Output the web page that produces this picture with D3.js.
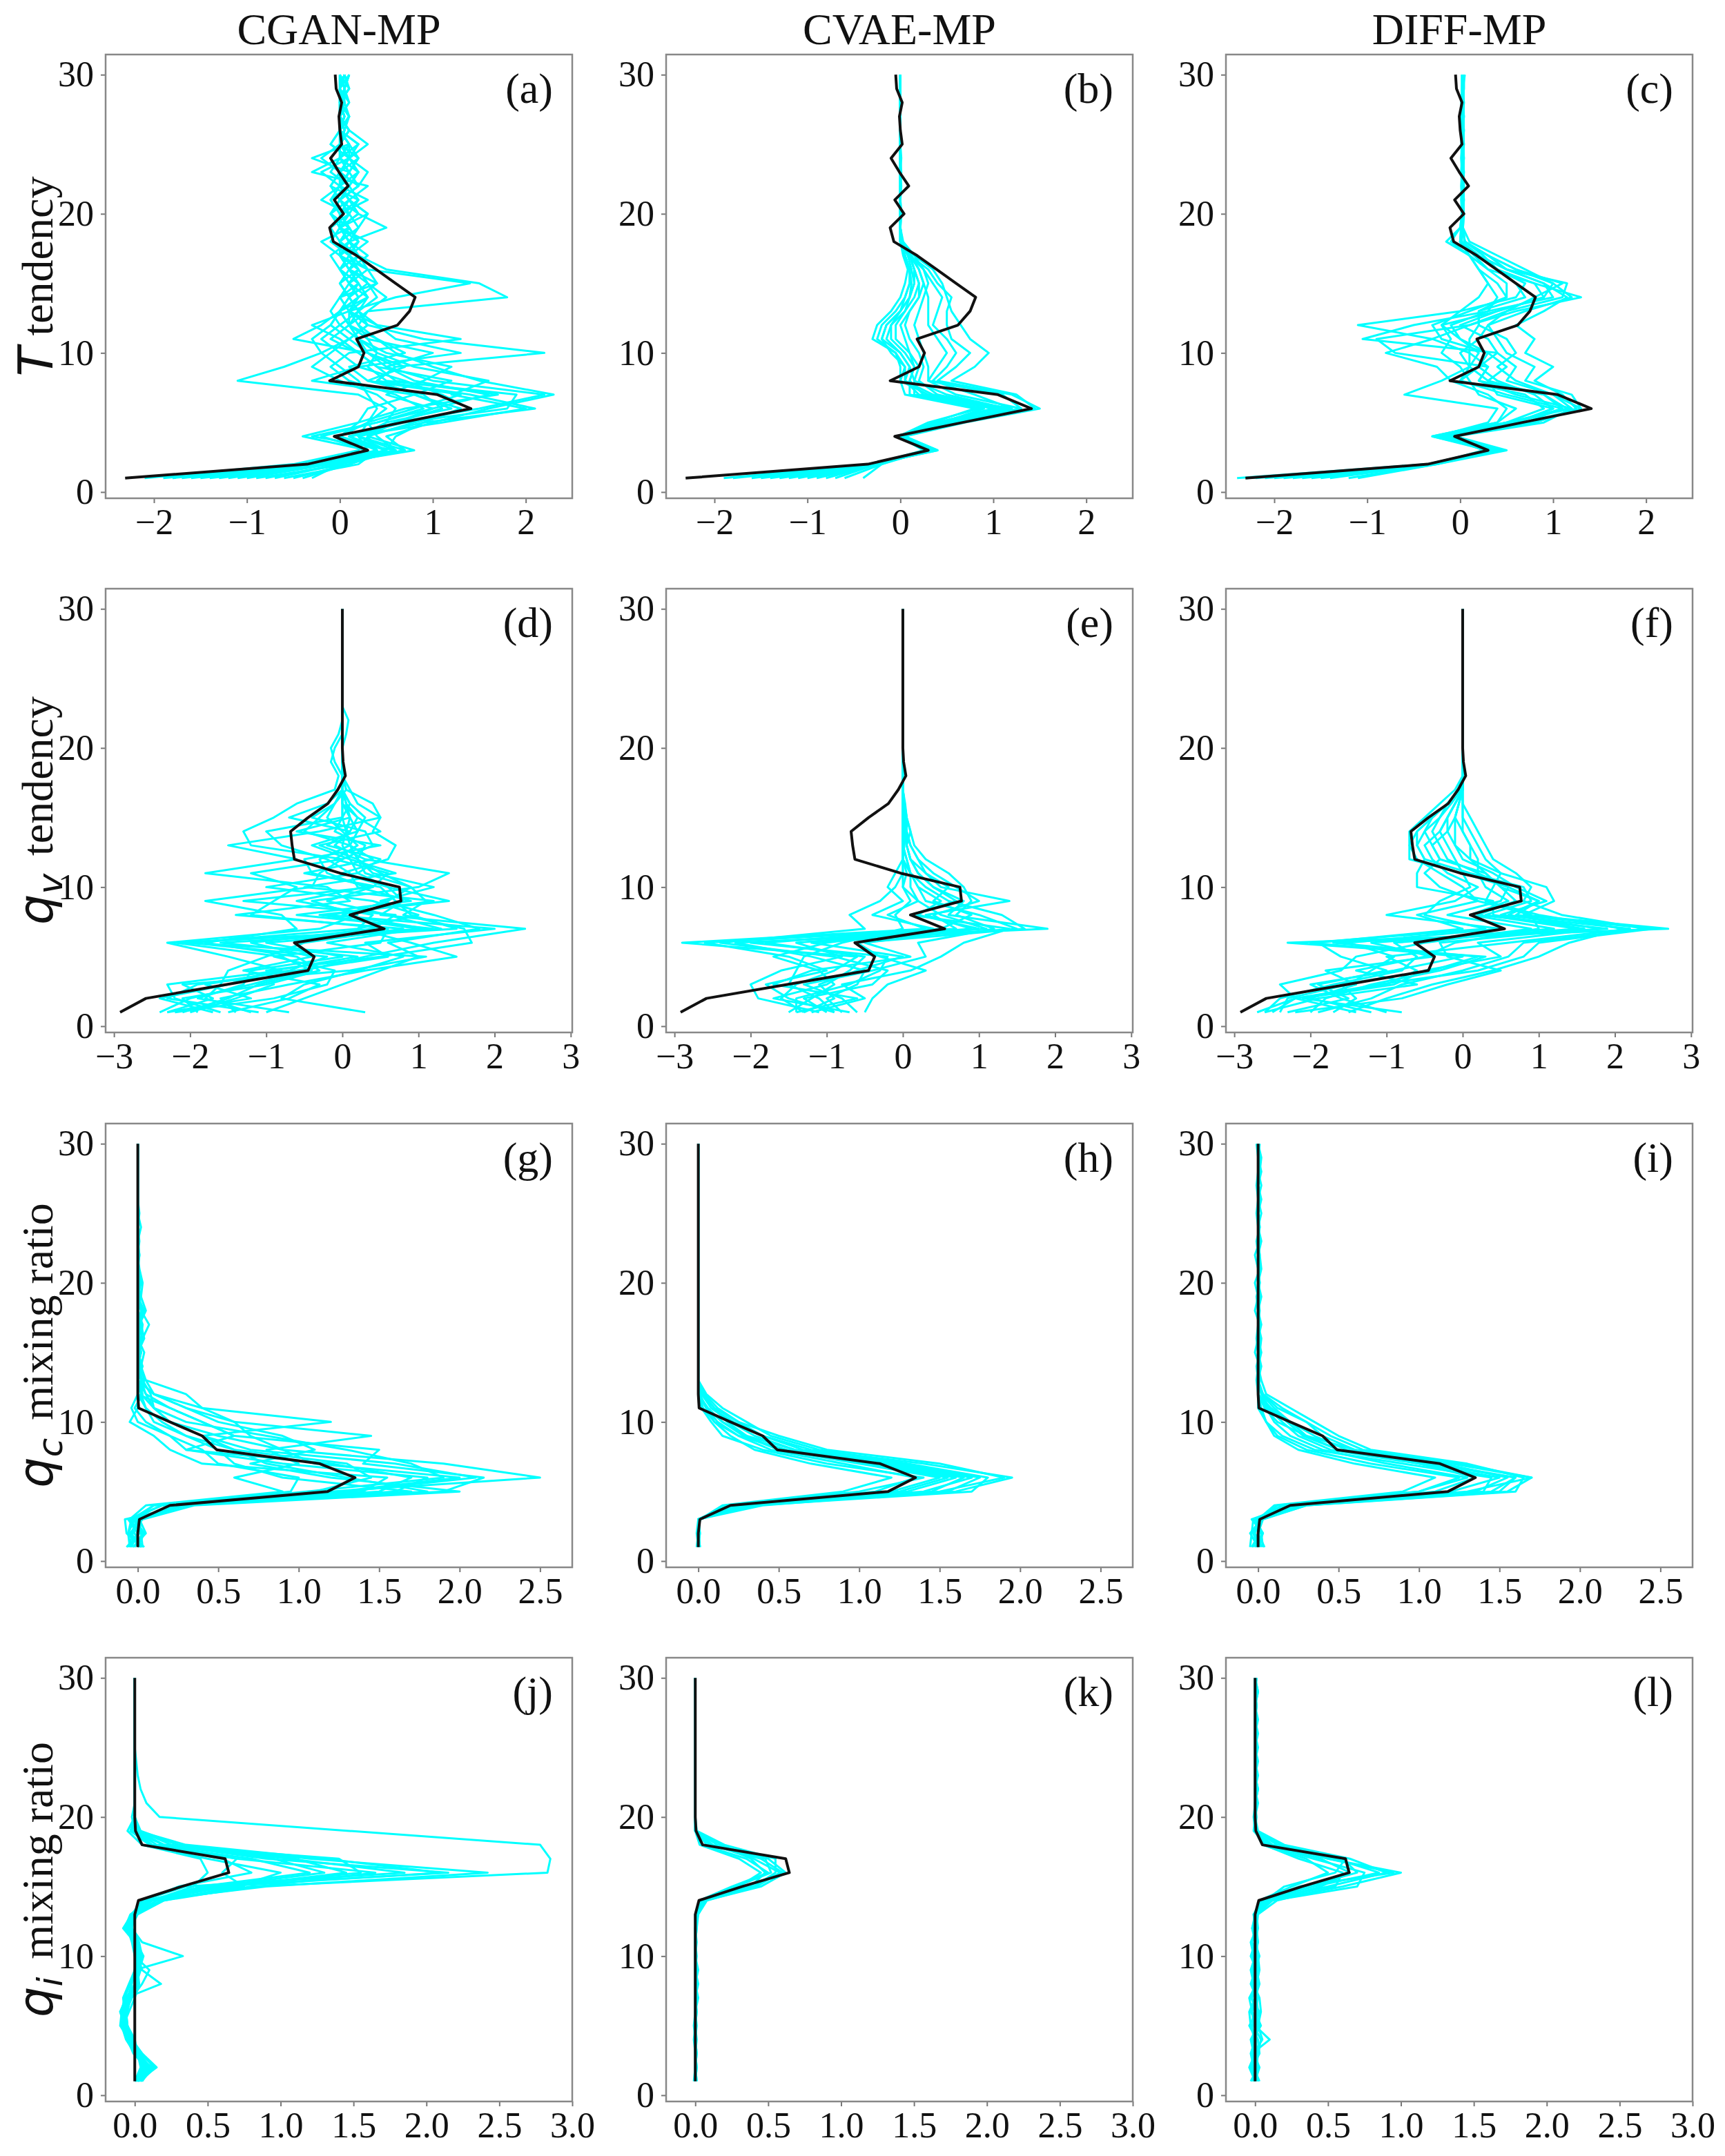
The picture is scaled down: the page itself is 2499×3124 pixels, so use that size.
<!DOCTYPE html>
<html><head><meta charset="utf-8">
<script src="https://cdn.jsdelivr.net/npm/d3@7"></script>
<style>body{margin:0;background:#fff}</style>
</head><body><svg id="chart" width="2499" height="3124"></svg>
<script>
const levels = [1,2,3,4,5,6,7,8,9,10,11,12,13,14,15,16,17,18,19,20,21,22,23,24,25,26,27,28,29,30];
const columnTitles = ["CGAN-MP","CVAE-MP","DIFF-MP"];
const panelLetters = ["(a)","(b)","(c)","(d)","(e)","(f)","(g)","(h)","(i)","(j)","(k)","(l)"];
const xTicksT = [-2,-1,0,1,2];
const xTicksQv = [-3,-2,-1,0,1,2,3];
const xTicksQc = [0,0.5,1.0,1.5,2.0,2.5];
const xTicksQi = [0,0.5,1.0,1.5,2.0,2.5,3.0];
const yTicks = [0,10,20,30];

// truth profiles (black)
const truthT = [-2.31,-0.35,0.30,-0.06,0.67,1.41,1.05,-0.11,0.20,0.26, 0.18,0.62,0.75,0.81,0.60,0.39,0.18,-0.07,-0.11,0.04, -0.06,0.09,-0.01,-0.10,0.02,0.00,-0.01,0.02,-0.04,-0.05];
const truthQv = [-2.92,-2.58,-1.52,-0.45,-0.37,-0.63,0.55,0.10,0.77,0.75, -0.03,-0.63,-0.66,-0.68,-0.45,-0.19,-0.06,0.04,0.01,0.00, 0,0,0,0,0,0,0,0,0,0];
const truthQc = [0,0,0.01,0.20,1.18,1.35,1.13,0.49,0.40,0.20, 0.005,0,0,0,0,0,0,0,0,0, 0,0,0,0,0,0,0,0,0,0];
const truthQi = [0,0,0,0,0,0,0,0,0,0, 0,0,0,0.025,0.32,0.645,0.62,0.05,0.005,0, 0,0,0,0,0,0,0,0,0,0];

// ensemble members (cyan)
const cganT = [
[-1.9,-0.3,0.4,0.1,0.6,1.5,2.2,1.0,0.5,0.3, 0.2,0.1,0.1,0.2,0.1,0.0,0.1,0.0,0.1,0.0, 0.1,0.0,0.1,0.0,0.0,0.05,0.0,0.05,0.0,0.05],
[-1.5,-0.2,0.5,0.2,0.9,2.1,1.4,0.4,0.6,2.2, 0.9,0.3,0.1,0.0,0.1,0.2,0.1,0.2,0.1,0.0, -0.1,0.1,0.2,0.1,0.0,0.1,0.0,0.0,0.1,0.05],
[-1.1,-0.1,0.6,0.4,0.3,0.5,0.2,-1.1,-0.6,-0.2, -0.3,-0.1,0.0,0.1,0.0,0.1,0.2,0.1,0.0,0.2, 0.1,0.3,-0.3,0.0,0.1,0.0,0.05,0.0,0.05,0.1],
[-0.8,0.0,0.5,0.1,0.7,1.8,1.9,0.5,0.3,0.4, 0.2,0.1,0.3,1.8,1.5,0.5,0.2,0.0,0.1,-0.1, 0.0,0.2,0.1,0.2,0.0,0.1,0.0,0.05,0.05,0.0],
[-0.4,0.1,0.6,-0.3,0.4,0.9,0.6,0.1,-0.1,0.1, 1.3,0.4,0.2,0.1,0.2,0.0,-0.1,0.1,0.0,0.1, 0.2,-0.1,0.0,-0.2,0.0,0.05,0.1,0.0,0.0,0.05],
[-1.7,-0.4,0.3,0.2,0.5,1.2,0.8,0.4,0.6,0.3, -0.5,-0.2,0.0,0.2,0.4,0.3,0.2,0.1,0.5,0.2, 0.0,0.1,0.0,0.1,0.1,0.0,0.0,0.1,0.05,0.0],
[-1.3,-0.2,0.7,0.5,1.0,1.6,2.3,1.5,1.0,0.6, 0.4,0.1,0.0,0.1,0.3,0.2,0.1,-0.1,0.0,0.1, 0.0,0.2,0.3,0.1,-0.1,0.0,0.05,0.0,0.1,0.0],
[-0.6,0.2,0.4,0.0,0.3,0.4,0.3,0.2,0.0,-0.2, 0.1,0.3,0.2,0.4,0.3,0.1,0.0,0.2,0.1,0.0, 0.3,0.0,0.1,-0.3,0.1,0.0,0.0,0.05,0.0,0.0],
[-2.1,-0.5,0.2,0.3,0.8,1.4,1.1,0.7,0.2,1.3, 0.6,0.4,0.1,0.6,1.4,0.3,0.1,0.0,-0.1,0.1, 0.0,0.1,0.2,0.0,0.1,0.0,0.1,0.0,0.05,0.1],
[-1.0,-0.1,0.8,0.3,0.6,1.0,0.5,0.9,1.2,0.5, 0.2,0.0,-0.1,0.0,0.2,0.1,0.3,0.1,0.0,-0.1, 0.1,0.0,-0.2,0.1,0.3,0.1,0.0,0.0,0.0,0.05],
[-0.3,0.0,0.3,-0.4,0.2,0.7,1.7,0.6,0.4,0.2, 0.0,-0.3,0.1,0.2,0.1,0.2,0.0,0.1,0.2,0.3, 0.1,0.0,0.1,0.2,0.0,0.0,0.1,0.05,0.0,0.1],
[-1.6,-0.3,0.5,0.1,1.1,2.0,1.2,1.6,0.8,0.4, 0.3,0.2,0.1,0.3,0.2,0.1,0.0,-0.2,0.1,0.0, -0.1,0.0,0.0,0.1,0.2,0.0,0.0,0.0,0.05,0.0],
[-0.9,0.1,0.5,0.0,0.2,0.3,0.8,-0.3,0.2,0.0, -0.2,0.0,0.2,0.3,0.1,0.0,0.1,0.2,0.0,0.1, 0.0,-0.1,0.0,0.1,0.0,0.05,0.0,0.0,0.1,0.05],
[-1.2,-0.2,0.6,0.2,0.6,1.1,0.9,0.3,0.1,0.7, 0.4,0.2,0.3,0.5,0.3,0.2,0.0,0.1,0.0,0.2, 0.1,0.0,0.2,0.0,0.0,0.0,0.1,0.0,0.0,0.05],
[-1.4,-0.1,0.4,0.3,0.5,0.6,0.4,0.0,-0.3,-0.1, 0.1,-0.1,0.0,0.2,0.1,0.3,0.0,0.0,0.2,0.1, -0.2,0.0,0.1,0.0,0.2,0.0,0.0,0.1,0.0,0.0],
[-0.5,0.1,0.5,0.6,0.9,1.3,0.8,1.2,0.4,0.2, -0.1,0.1,0.2,0.1,0.0,0.2,0.1,0.3,0.0,0.0, 0.2,0.1,-0.1,0.0,0.0,0.1,0.0,0.0,0.05,0.1],
[-1.8,-0.4,0.3,-0.2,0.4,1.0,1.6,0.8,0.5,1.0, 0.3,0.1,0.0,0.3,0.2,0.0,0.2,0.0,0.1,-0.1, 0.0,0.2,0.0,0.1,-0.1,0.0,0.05,0.0,0.0,0.05],
[-0.7,0.0,0.7,0.2,0.3,0.8,1.3,0.3,0.7,0.3, 0.1,0.3,0.1,0.0,0.4,0.1,0.0,0.1,0.0,0.3, 0.1,0.0,0.0,0.2,0.1,0.0,0.1,0.0,0.0,0.0]
];
const cvaeT = [
[-1.9,-0.3,0.35,0.0,0.6,1.45,1.25,0.55,0.8,0.95, 0.75,0.65,0.55,0.5,0.45,0.35,0.15,0.02,0.0,0.01, 0.0,0.0,0.01,0.0,0.0,0.0,0.0,0.0,0.0,0.0],
[-1.5,-0.3,0.4,0.05,0.7,1.5,1.2,0.4,0.6,0.75, 0.55,0.5,0.5,0.55,0.4,0.3,0.1,0.0,0.0,0.0, 0.0,0.01,0.0,0.0,0.0,0.0,0.0,0.0,0.0,0.0],
[-1.0,-0.25,0.3,0.0,0.5,1.3,1.1,0.3,0.4,0.5, 0.4,0.3,0.3,0.3,0.25,0.2,0.1,0.0,0.0,0.0, 0,0,0,0,0,0,0,0,0,0],
[-1.8,-0.35,0.3,-0.05,0.5,1.2,0.3,0.0,0.0,-0.05, -0.25,-0.2,-0.05,0.05,0.1,0.1,0.05,0.0,0.0,0.0, 0,0,0,0,0,0,0,0,0,0],
[-1.4,-0.3,0.25,0.0,0.4,1.0,0.2,0.05,0.1,0.0, -0.2,-0.15,0.0,0.1,0.15,0.12,0.08,0.0,0.0,0.01, 0.0,0.0,0.0,0.01,0.0,0.0,0.0,0.0,0.0,0.0],
[-0.9,-0.25,0.35,0.05,0.45,0.9,0.1,0.1,0.15,0.05, -0.1,-0.1,0.05,0.15,0.2,0.15,0.1,0.02,0.0,0.0, 0,0,0,0,0,0,0,0,0,0],
[-0.6,-0.2,0.3,0.0,0.35,0.8,0.05,0.0,0.05,-0.05, -0.3,-0.25,-0.1,0.0,0.05,0.08,0.03,0.0,0.0,0.0, 0,0,0,0,0,0,0,0,0,0],
[-0.4,-0.2,0.25,-0.02,0.3,0.85,0.15,0.15,0.2,0.1, 0.05,0.0,0.1,0.2,0.2,0.15,0.1,0.0,0.0,0.0, 0,0,0,0,0,0,0,0,0,0],
[-1.2,-0.3,0.4,0.05,0.6,1.1,0.4,0.2,0.25,0.2, 0.1,0.05,0.1,0.2,0.25,0.2,0.12,0.02,0.0,0.0, 0,0,0,0,0,0,0,0,0,0],
[-0.7,-0.25,0.3,0.0,0.4,1.0,0.25,0.1,0.15,0.1, -0.05,-0.05,0.05,0.1,0.12,0.1,0.05,0.0,0.0,0.0, 0,0,0,0,0,0,0,0,0,0],
[-1.6,-0.35,0.35,0.02,0.55,1.3,0.6,0.3,0.3,0.25, 0.2,0.15,0.2,0.25,0.3,0.25,0.15,0.03,0.0,0.0, 0,0,0,0,0,0,0,0,0,0],
[-1.1,-0.3,0.3,0.0,0.5,1.15,0.5,0.15,0.1,0.0, -0.15,-0.1,0.0,0.1,0.15,0.15,0.1,0.0,0.0,0.0, 0,0,0,0,0,0,0,0,0,0],
[-1.3,-0.3,0.3,0.0,0.5,1.2,0.8,0.35,0.5,0.6, 0.5,0.35,0.4,0.45,0.35,0.25,0.1,0.0,0.0,0.0, 0,0,0,0,0,0,0,0,0,0],
[-0.8,-0.25,0.3,0.0,0.45,1.05,0.35,0.05,0.05,-0.1, -0.2,-0.15,0.0,0.05,0.1,0.1,0.05,0.0,0.0,0.0, 0,0,0,0,0,0,0,0,0,0]
];
const diffT = [
[-2.4,-0.35,0.3,-0.25,0.5,1.2,0.6,0.2,0.3,0.1, -0.3,-1.1,0.0,0.6,0.7,0.4,0.2,0.0,0.02,0.03, 0.02,0.03,0.03,0.02,0.03,0.02,0.03,0.03,0.03,0.04],
[-2.1,-0.3,0.45,-0.2,0.7,1.3,1.0,0.5,0.6,0.4, -1.05,-0.5,0.3,1.0,0.9,0.5,0.3,0.05,0.03,0.04, 0.03,0.04,0.03,0.04,0.03,0.04,0.03,0.04,0.03,0.05],
[-1.8,-0.35,0.35,-0.3,0.4,0.5,0.3,-0.1,-0.25,-0.8, -0.3,0.1,0.6,1.3,0.8,0.3,0.1,0.0,0.01,0.02, 0.03,0.02,0.02,0.03,0.02,0.03,0.02,0.02,0.03,0.03],
[-1.5,-0.3,0.25,-0.15,0.6,1.1,0.9,0.3,0.1,0.0, 0.2,0.3,0.5,0.8,1.1,0.6,0.3,0.05,0.02,0.03, 0.04,0.03,0.04,0.03,0.04,0.03,0.04,0.03,0.04,0.04],
[-1.2,-0.25,0.4,-0.1,0.8,1.25,1.1,0.8,1.0,0.7, 0.8,0.6,0.9,1.15,0.9,0.5,0.2,0.0,0.02,0.02, 0.03,0.03,0.02,0.03,0.03,0.02,0.03,0.03,0.02,0.03],
[-2.2,-0.35,0.3,-0.25,0.3,0.4,-0.6,-0.2,0.1,0.2, 0.0,-0.1,0.3,0.4,0.3,0.2,0.1,-0.1,0.0,0.02, 0.01,0.02,0.02,0.01,0.02,0.02,0.01,0.02,0.02,0.02],
[-1.9,-0.3,0.3,-0.2,0.5,0.9,0.7,0.0,0.2,0.3, -0.2,-0.3,0.1,0.5,0.5,0.3,0.15,0.0,0.02,0.03, 0.02,0.02,0.03,0.02,0.02,0.03,0.02,0.03,0.02,0.03],
[-1.6,-0.25,0.5,-0.05,0.9,1.2,1.0,0.6,0.4,0.6, 0.5,0.2,0.2,0.7,0.6,0.4,0.25,0.05,0.03,0.04, 0.03,0.03,0.04,0.03,0.03,0.04,0.03,0.03,0.04,0.04],
[-2.3,-0.35,0.3,-0.3,0.4,0.6,0.2,0.1,0.0,-0.2, -0.1,-0.2,0.0,0.2,0.3,0.2,0.1,0.0,0.01,0.02, 0.02,0.01,0.02,0.02,0.01,0.02,0.02,0.01,0.02,0.02],
[-1.4,-0.3,0.35,-0.1,0.6,1.0,0.8,0.4,0.2,0.4, 0.3,0.0,0.4,0.9,1.0,0.7,0.4,0.1,0.03,0.03, 0.04,0.03,0.03,0.04,0.03,0.03,0.04,0.03,0.03,0.04],
[-2.0,-0.3,0.4,-0.2,0.5,1.15,0.9,0.2,0.3,-0.7, -0.9,0.1,0.5,1.1,1.15,0.5,0.2,0.02,0.02,0.03, 0.02,0.03,0.02,0.03,0.02,0.03,0.02,0.03,0.02,0.03],
[-1.1,-0.25,0.3,-0.15,0.7,1.1,0.5,0.0,0.1,0.1, 0.1,0.2,0.2,0.5,0.4,0.2,0.1,-0.15,0.0,0.02, 0.02,0.02,0.01,0.02,0.02,0.02,0.01,0.02,0.02,0.02],
[-2.3,-0.35,0.4,-0.2,0.6,1.0,0.4,0.3,0.5,0.3, 0.0,-0.2,0.4,0.9,0.8,0.4,0.2,0.0,0.02,0.03, 0.03,0.02,0.03,0.02,0.03,0.03,0.02,0.03,0.03,0.03],
[-1.7,-0.3,0.3,-0.1,0.8,1.3,1.2,0.7,0.8,0.5, 0.4,0.3,0.7,1.2,1.0,0.6,0.3,0.05,0.03,0.03, 0.03,0.04,0.03,0.03,0.04,0.03,0.03,0.04,0.03,0.04]
];
const cganQv = [
[-2.4,-2.0,-1.2,-0.5,0.3,1.2,2.4,0.5,0.8,0.6, 0.2,0.1,0.0,0.05,0.1,0.05,0.0,0.0,0.0,0.0, 0,0,0,0,0,0,0,0,0,0],
[-1.6,-2.2,-2.3,-0.8,-1.5,-2.3,-0.3,0.2,-0.4,1.0, 1.4,0.3,-0.1,0.1,0.2,0.05,0.0,0.0,0.0,0.0, 0,0,0,0,0,0,0,0,0,0],
[-2.0,-1.4,-0.9,-1.0,0.5,1.7,1.6,0.8,1.1,0.9, 0.5,0.2,0.1,0.05,0.0,0.0,0.0,0.0,0.0,0.0, 0,0,0,0,0,0,0,0,0,0],
[-1.2,-1.8,-1.6,-1.5,-1.0,-0.5,0.8,-1.4,0.1,-0.2, -1.8,-0.6,-1.5,-0.3,0.5,0.4,0.05,0.0,0.0,0.0, 0,0,0,0,0,0,0,0,0,0],
[0.3,-0.8,-0.5,0.2,0.8,-0.2,1.0,-0.3,1.4,0.6, 0.0,0.6,0.7,0.4,0.5,0.2,0.1,0.0,0.0,0.0, 0.05,0.08,0,0,0,0,0,0,0,0],
[-1.9,-2.1,-1.0,-0.3,-0.6,-1.8,-0.6,-0.8,-1.8,-0.4, -0.3,0.0,-1.2,-1.3,-0.9,-0.6,-0.1,-0.05,-0.15,-0.1, 0,0,0,0,0,0,0,0,0,0],
[-1.0,-0.5,0.0,0.5,1.0,0.6,1.8,1.2,0.5,1.2, 0.4,0.2,0.3,-0.1,0.0,0.0,0.0,0.0,0.0,0.0, 0,0,0,0,0,0,0,0,0,0],
[-2.3,-1.2,-1.8,-0.7,-0.2,-2.0,0.2,0.4,-0.6,0.3, -0.2,-0.3,0.1,-0.5,-0.3,-0.1,0.0,0.0,0.0,0.0, 0,0,0,0,0,0,0,0,0,0],
[-1.4,-1.6,-0.7,0.3,1.5,0.9,0.2,1.0,0.4,-1.0, 0.2,0.5,-0.2,0.1,-0.7,-0.2,0.0,0.0,0.0,0.0, 0,0,0,0,0,0,0,0,0,0],
[-0.7,-1.9,-1.3,-1.2,0.0,-1.0,1.2,-0.6,0.9,0.2, 0.1,-0.2,-0.8,-1.0,0.0,0.1,0.0,0.0,0.0,0.0, 0,0,0,0,0,0,0,0,0,0],
[-2.2,-0.9,-0.2,-0.1,-0.9,0.5,0.6,-1.2,-0.9,-0.6, -1.2,0.0,0.4,0.3,-0.4,-0.1,0.05,0.0,-0.1,-0.15, -0.05,0,0,0,0,0,0,0,0,0],
[-1.7,-2.4,-1.5,-0.9,0.2,-1.6,1.5,0.9,0.7,0.5, -0.5,0.4,0.1,0.2,0.1,0.05,0.0,0.0,0.0,0.0, 0,0,0,0,0,0,0,0,0,0],
[-2.1,-1.5,-1.1,-0.4,-0.8,-2.2,1.3,0.6,-0.2,0.4, 0.6,-0.1,0.2,0.0,-0.2,-0.1,0.0,0,0,0, 0,0,0,0,0,0,0,0,0,0],
[-1.1,-2.3,-1.9,-0.6,0.6,0.3,2.0,-0.2,1.2,-0.5, 0.7,0.1,-0.4,0.2,0.3,0.1,0.0,0,0,0, 0,0,0,0,0,0,0,0,0,0],
[-1.5,-0.7,-0.3,-1.3,-0.4,-1.2,0.4,0.7,-1.3,0.4, -0.4,-0.5,0.5,-0.6,0.1,0.0,0.0,0,0,0, 0,0,0,0,0,0,0,0,0,0],
[-2.3,-1.7,-2.1,0.1,1.1,-2.1,1.1,0.0,0.6,0.9, 0.3,0.2,-0.3,0.5,0.2,0.0,0.0,0,0,0, 0,0,0,0,0,0,0,0,0,0]
];
const cvaeQv = [
[-1.3,-1.6,-1.4,-0.9,-0.6,-2.9,0.3,-0.2,0.2,0.0, 0.0,0.0,0.02,0.03,0.02,0.01,0,0,0,0, 0,0,0,0,0,0,0,0,0,0],
[-0.8,-1.0,-0.6,-0.5,-1.2,-2.2,1.9,0.6,0.8,0.4, 0.2,0.1,0.05,0.05,0.03,0.02,0,0,0,0, 0,0,0,0,0,0,0,0,0,0],
[-1.1,-1.9,-2.0,-1.6,-0.8,-1.4,0.9,0.3,1.4,0.5, 0.3,0.1,0.05,0.1,0.05,0.03,0,0,0,0, 0,0,0,0,0,0,0,0,0,0],
[-0.5,-0.4,-0.2,0.3,-0.3,-0.6,1.6,1.3,0.6,0.3, 0.1,0.05,0.0,0.02,0,0,0,0,0,0, 0,0,0,0,0,0,0,0,0,0],
[-1.5,-1.2,-0.9,-1.1,-1.7,-1.0,0.4,-0.4,0.0,-0.2, -0.1,0,0,0,0,0,0,0,0,0, 0,0,0,0,0,0,0,0,0,0],
[-0.6,-0.8,-1.3,-0.4,0.3,0.2,1.2,0.7,0.9,0.8, 0.6,0.3,0.15,0.1,0.05,0.02,0,0,0,0, 0,0,0,0,0,0,0,0,0,0],
[-1.0,-1.3,-0.4,-0.2,-0.9,-2.4,-0.5,-0.7,-0.3,-0.1, 0,0,0,0,0,0,0,0,0,0, 0,0,0,0,0,0,0,0,0,0],
[-1.4,-0.6,-1.7,-1.2,0.1,-0.5,1.0,0.2,0.5,0.2, 0.1,0,0,0,0,0,0,0,0,0, 0,0,0,0,0,0,0,0,0,0],
[-0.7,-1.7,-1.0,-0.7,-0.5,-1.8,0.5,0.9,0.4,0.6, 0.3,0.2,0.1,0.05,0.05,0.02,0,0,0,0, 0,0,0,0,0,0,0,0,0,0],
[-1.2,-0.5,-0.8,0.1,0.5,0.8,1.4,0.1,0.7,0.4, 0.2,0.1,0.05,0.02,0,0,0,0,0,0, 0,0,0,0,0,0,0,0,0,0],
[-0.9,-1.1,-1.5,-1.4,-1.3,-0.8,0.0,-0.1,0.1,0.0, 0.05,0,0,0,0,0,0,0,0,0, 0,0,0,0,0,0,0,0,0,0],
[-1.4,-1.4,-0.7,-0.3,-0.2,-2.0,1.1,0.5,0.2,0.1, 0.1,0.05,0,0,0,0,0,0,0,0, 0,0,0,0,0,0,0,0,0,0],
[-0.9,-1.5,-1.8,-1.0,-1.5,-2.6,0.7,0.4,1.0,0.7, 0.4,0.2,0.1,0.05,0.02,0,0,0,0,0, 0,0,0,0,0,0,0,0,0,0],
[-1.3,-0.9,-1.1,-0.6,0.0,-1.2,1.5,1.0,0.3,0.2, 0.1,0.0,0,0,0,0,0,0,0,0, 0,0,0,0,0,0,0,0,0,0]
];
const diffQv = [
[-2.6,-2.4,-1.7,-0.8,-0.6,-0.9,1.5,0.3,0.9,0.8, 0.1,-0.5,-0.6,-0.6,-0.4,-0.2,-0.05,0,0,0, 0,0,0,0,0,0,0,0,0,0],
[-2.0,-1.8,-1.2,-0.3,0.3,-2.3,2.7,0.8,1.2,1.1, 0.5,0.1,-0.1,-0.2,-0.1,-0.05,0,0,0,0, 0,0,0,0,0,0,0,0,0,0],
[-2.7,-2.2,-2.4,-1.6,-1.4,-0.5,0.9,-0.2,0.5,0.6, 0.0,-0.7,-0.7,-0.7,-0.5,-0.3,-0.1,0,0,0, 0,0,0,0,0,0,0,0,0,0],
[-1.5,-1.0,-0.4,0.4,1.0,1.4,2.1,1.0,0.3,0.4, 0.5,0.3,0.2,0.1,0,0,0,0,0,0, 0,0,0,0,0,0,0,0,0,0],
[-2.3,-1.5,-1.9,-1.0,-1.6,-1.9,0.0,-0.6,0.2,-0.3, -0.5,-0.3,-0.4,-0.5,-0.3,-0.2,-0.05,0,0,0, 0,0,0,0,0,0,0,0,0,0],
[-0.8,-2.1,-0.9,-0.5,0.5,0.2,1.8,0.6,1.0,0.5, 0.3,0.1,0.1,0.0,-0.1,-0.05,0,0,0,0, 0,0,0,0,0,0,0,0,0,0],
[-2.4,-2.3,-1.5,-1.2,-0.9,-1.5,0.5,-1.0,-0.1,0.2, -0.2,-0.4,-0.5,-0.3,-0.2,-0.1,0,0,0,0, 0,0,0,0,0,0,0,0,0,0],
[-1.9,-1.2,-0.8,0.0,0.6,0.8,2.4,1.3,0.8,0.9, 0.7,0.4,0.3,0.2,0.1,0,0,0,0,0, 0,0,0,0,0,0,0,0,0,0],
[-1.2,-2.0,-1.4,-1.8,-0.4,-1.2,1.2,0.1,0.6,0.3, 0.2,-0.2,-0.3,-0.4,-0.3,-0.15,-0.02,0,0,0, 0,0,0,0,0,0,0,0,0,0],
[-2.2,-0.8,-0.2,0.5,-0.2,-0.3,1.6,0.4,0.4,-0.6, -0.6,-0.5,-0.6,-0.5,-0.4,-0.2,-0.05,0,0,0, 0,0,0,0,0,0,0,0,0,0],
[-1.0,-1.6,-2.0,-0.9,0.0,-2.0,0.3,-0.5,-0.3,0.1, 0.0,-0.1,-0.2,-0.3,-0.2,-0.1,0,0,0,0, 0,0,0,0,0,0,0,0,0,0],
[-2.5,-2.2,-1.0,-0.6,-1.0,0.6,2.2,0.5,1.1,0.7, 0.4,0.0,-0.1,-0.1,-0.1,-0.05,0,0,0,0, 0,0,0,0,0,0,0,0,0,0],
[-1.7,-1.4,-1.6,-0.4,0.2,-1.7,1.9,0.2,0.7,0.5, 0.3,-0.3,-0.4,-0.2,-0.2,-0.1,0,0,0,0, 0,0,0,0,0,0,0,0,0,0],
[-2.6,-1.9,-0.6,-1.4,-0.5,-0.1,1.0,0.9,0.2,0.0, -0.3,-0.6,-0.7,-0.6,-0.4,-0.2,-0.05,0,0,0, 0,0,0,0,0,0,0,0,0,0],
[-1.4,-2.2,-1.1,0.2,0.8,1.0,2.5,0.7,1.0,0.6, 0.2,0.2,0.1,0.0,0.0,0.0,0,0,0,0, 0,0,0,0,0,0,0,0,0,0]
];
const cganQc = [
[-0.05,-0.06,-0.04,0.1,1.2,2.5,1.9,0.9,0.5,0.2, 0.1,0.05,0.0,0.01,0.0,0.02,0.03,0.0,0.01,0.0, 0.0,0.01,0,0,0,0,0,0,0,0],
[0.02,-0.07,-0.08,0.3,1.9,2.15,1.4,1.5,0.6,0.4, 0.2,0.05,0.02,0.0,0.01,0.03,0.07,0.02,0.0,0.01, 0.0,0.0,0.01,0,0,0,0,0,0,0],
[0.03,0.02,-0.05,0.05,0.9,0.6,1.0,0.8,1.45,0.6, 0.4,0.1,0.0,0.02,0.04,0.0,0.01,0.05,0.02,0.03, 0.01,0.0,0.0,0.02,0,0,0,0,0,0],
[-0.06,-0.03,0.0,0.2,1.3,2.1,1.6,0.7,0.4,1.2, 0.4,0.3,0.05,0.0,0.02,0.01,0.0,0.0,0.02,0.0, 0.0,0.01,0.0,0.0,0.01,0,0,0,0,0],
[0.0,0.04,-0.02,0.25,1.1,1.45,1.3,0.6,0.3,0.1, 0.05,0.02,0.04,0.02,0.0,0.04,0.02,0.0,0.0,0.02, 0,0,0,0,0,0,0,0,0,0],
[-0.04,0.0,-0.06,0.15,1.6,1.8,0.9,0.3,0.2,0.05, -0.02,0.03,0.0,0.0,0.02,0.0,0.0,0.03,0.0,0.0, 0,0,0,0,0,0,0,0,0,0],
[0.04,-0.05,0.03,0.35,2.0,1.2,0.7,1.1,0.9,0.5, 0.3,0.1,0.05,0.02,0.0,0.01,0.0,0.02,0.0,0.0, 0,0,0,0,0,0,0,0,0,0],
[-0.02,0.03,-0.03,0.1,0.95,1.0,0.5,0.4,0.2,0.0, -0.04,0.0,0.02,0.0,0.0,0.0,0.02,0.0,0.0,0.0, 0,0,0,0,0,0,0,0,0,0],
[0.01,-0.04,0.0,0.3,1.5,1.7,1.2,0.3,0.6,0.4, 0.2,0.0,0.0,0.03,0.0,0.0,0.0,0.0,0.0,0.0, 0,0,0,0,0,0,0,0,0,0],
[-0.07,0.01,0.02,0.2,1.4,1.55,0.4,0.2,0.1,-0.05, 0,0,0,0,0,0,0,0,0,0, 0,0,0,0,0,0,0,0,0,0],
[0.02,-0.02,-0.04,0.15,1.05,1.9,1.7,1.3,0.8,0.3, 0.1,0.08,0.03,0,0,0,0,0,0,0, 0,0,0,0,0,0,0,0,0,0],
[-0.03,0.05,0.01,0.25,1.7,0.9,0.6,0.5,0.3,0.15, 0.05,0,0,0,0,0,0,0,0,0, 0,0,0,0,0,0,0,0,0,0],
[-0.05,0.0,0.02,0.22,1.25,2.0,1.1,0.9,0.7,0.6, 0.3,0.1,0.0,0.0,0.02,0,0,0,0,0, 0,0,0,0,0,0,0,0,0,0],
[0.03,-0.06,-0.02,0.3,1.8,1.3,0.8,0.6,0.4,0.2, 0.1,0.02,0.0,0.0,0.0,0.03,0.0,0.04,0.0,0.0, 0,0,0,0,0,0,0,0,0,0]
];
const cvaeQc = [
[0.0,0.0,0.0,0.3,1.6,1.95,1.4,0.7,0.4,0.25, 0.1,0.03,0,0,0,0,0,0,0,0, 0,0,0,0,0,0,0,0,0,0],
[0.01,0.0,0.01,0.25,1.4,1.7,1.2,0.6,0.35,0.2, 0.08,0.02,0,0,0,0,0,0,0,0, 0,0,0,0,0,0,0,0,0,0],
[-0.01,0.0,0.0,0.2,1.2,1.5,1.0,0.5,0.3,0.15, 0.05,0,0,0,0,0,0,0,0,0, 0,0,0,0,0,0,0,0,0,0],
[0.0,0.01,0.0,0.35,1.7,1.8,1.3,0.75,0.45,0.3, 0.15,0.05,0,0,0,0,0,0,0,0, 0,0,0,0,0,0,0,0,0,0],
[0.0,0.0,0.01,0.15,0.9,1.2,0.7,0.35,0.2,0.1, 0.03,0,0,0,0,0,0,0,0,0, 0,0,0,0,0,0,0,0,0,0],
[0.01,0.0,0.0,0.25,1.3,1.6,1.1,0.55,0.25,0.1, 0.05,0,0,0,0,0,0,0,0,0, 0,0,0,0,0,0,0,0,0,0],
[0.0,0.0,0.0,0.4,1.5,1.9,1.5,0.8,0.5,0.25, 0.12,0.04,0,0,0,0,0,0,0,0, 0,0,0,0,0,0,0,0,0,0],
[0.0,-0.01,0.0,0.2,1.1,1.35,0.9,0.45,0.25,0.12, 0.05,0.01,0,0,0,0,0,0,0,0, 0,0,0,0,0,0,0,0,0,0],
[0.0,0.0,0.0,0.3,1.45,1.65,1.15,0.6,0.3,0.18, 0.1,0.02,0,0,0,0,0,0,0,0, 0,0,0,0,0,0,0,0,0,0],
[0.01,0.0,0.0,0.18,1.0,1.4,0.8,0.4,0.15,0.08, 0.02,0,0,0,0,0,0,0,0,0, 0,0,0,0,0,0,0,0,0,0],
[0.0,0.0,0.01,0.28,1.55,1.75,1.25,0.65,0.4,0.22, 0.08,0.03,0,0,0,0,0,0,0,0, 0,0,0,0,0,0,0,0,0,0],
[0.0,0.01,0.0,0.22,1.25,1.55,1.05,0.5,0.28,0.15, 0.06,0,0,0,0,0,0,0,0,0, 0,0,0,0,0,0,0,0,0,0]
];
const diffQc = [
[-0.05,-0.04,-0.03,0.2,1.3,1.7,1.2,0.6,0.4,0.3, 0.15,0.03,0.0,0.01,-0.02,0.0,0.02,0.0,-0.01,0.01, 0.0,-0.02,0.01,0.0,0.02,0.0,-0.01,0.0,0.01,0.0],
[0.03,0.02,0.0,0.25,1.5,1.6,1.1,0.5,0.3,0.2, 0.1,0.02,0.0,-0.01,0.01,0.02,0.0,0.01,0.0,-0.02, 0.01,0.0,0.02,0.0,0.0,0.01,0.0,0.02,0.0,0.01],
[-0.03,0.0,-0.02,0.15,1.0,1.3,0.8,0.4,0.2,0.1, 0.05,0.0,0.01,0.0,0.0,-0.01,0.0,0.0,0.02,0.0, 0.0,0.0,-0.01,0.01,0.0,0.0,0.02,0.0,0.0,-0.01],
[0.0,-0.05,0.02,0.3,1.6,1.65,1.3,0.7,0.5,0.35, 0.2,0.05,0.02,0.0,0.0,0.0,0.01,-0.02,0.0,0.0, 0.02,0.01,0.0,0.0,-0.01,0.0,0.0,0.01,0.02,0.0],
[0.04,0.0,0.0,0.1,0.9,1.1,0.6,0.25,0.1,0.05, 0.02,0.0,-0.01,0.0,0.02,0.0,0.0,0.0,0.01,0.0, 0.0,0.01,0.0,0.0,0.0,0.02,0.0,0.0,0.0,0.0],
[-0.02,0.03,-0.04,0.2,1.2,1.5,1.0,0.55,0.35,0.2, 0.08,0.0,0.0,0.02,0.0,0.01,0.0,0.0,0.0,0.01, 0.0,0.0,0.0,0.01,0.0,0.0,0.0,0.0,0.01,0.0],
[0.0,-0.03,0.0,0.25,1.4,1.45,0.9,0.35,0.15,0.05, 0,0,0,0,0,0,0,0,0,0, 0,0,0,0,0,0,0,0,0,0],
[0.02,0.0,0.03,0.3,1.55,1.7,1.25,0.65,0.45,0.3, 0.12,0.03,0,0,0,0,0,0,0,0, 0,0,0,0,0,0,0,0,0,0],
[-0.04,0.01,-0.01,0.18,1.1,1.35,1.0,0.45,0.25,0.15, 0.06,0,0,0,0,0,0,0,0,0, 0,0,0,0,0,0,0,0,0,0],
[0.01,-0.02,0.01,0.22,1.35,1.55,1.15,0.6,0.3,0.12, 0.04,0,0,0,0,0,0,0,0,0, 0,0,0,0,0,0,0,0,0,0],
[-0.01,0.0,0.0,0.12,1.0,1.25,0.7,0.3,0.12,0.05, 0.01,0,0,0,0,0,0,0,0,0, 0,0,0,0,0,0,0,0,0,0],
[0.0,0.03,-0.02,0.28,1.45,1.6,1.05,0.5,0.28,0.18, 0.07,0.02,0,0,0,0,0,0,0,0, 0,0,0,0,0,0,0,0,0,0]
];
const cganQi = [
[0.0,0.05,0.02,0.0,-0.05,-0.06,-0.03,0.0,0.02,0.01, 0.0,-0.03,0.02,0.2,0.8,2.83,2.85,2.78,1.47,0.17, 0.08,0.04,0.02,0.01,0,0,0,0,0,0],
[0.02,0.15,0.05,-0.02,-0.07,-0.08,-0.05,0.02,0.0,0.33, 0.05,-0.02,0.0,0.1,0.9,2.42,1.2,0.3,0.0,-0.02, 0,0,0,0,0,0,0,0,0,0],
[0.0,0.1,0.03,-0.04,-0.1,-0.09,-0.06,0.18,0.05,0.02, 0.0,-0.08,-0.02,0.08,0.5,2.15,0.9,0.2,0.02,0.0, 0,0,0,0,0,0,0,0,0,0],
[0.03,0.08,-0.01,-0.05,-0.08,-0.04,0.0,0.03,0.02,0.0, -0.02,-0.05,0.0,0.15,0.6,1.55,1.4,0.15,0.0,0.0, 0,0,0,0,0,0,0,0,0,0],
[0.05,0.12,0.0,-0.06,-0.09,-0.07,-0.08,-0.04,0.0,0.05, 0.02,-0.06,-0.01,0.12,0.45,1.2,0.8,0.1,-0.03,0.0, 0,0,0,0,0,0,0,0,0,0],
[0.01,0.06,0.02,-0.03,-0.06,-0.08,-0.04,0.0,0.03,0.04, 0.01,-0.03,0.01,0.2,0.7,1.0,0.5,0.05,-0.05,0.0, 0,0,0,0,0,0,0,0,0,0],
[0.04,0.14,0.04,-0.02,-0.05,-0.06,-0.02,0.05,0.1,0.0, -0.01,-0.04,0.0,0.06,0.3,0.8,0.6,0.1,0.0,0.0, 0,0,0,0,0,0,0,0,0,0],
[0.02,0.09,0.01,-0.04,-0.07,-0.1,-0.05,-0.02,0.01,0.03, 0.0,-0.07,-0.03,0.1,0.55,1.3,0.95,0.25,0.03,0.0, 0,0,0,0,0,0,0,0,0,0],
[0.0,0.04,0.02,-0.05,-0.08,-0.05,-0.03,0.0,0.02,0.05, 0.03,-0.02,0.0,0.18,0.75,0.6,0.7,0.12,0.0,0.0, 0,0,0,0,0,0,0,0,0,0],
[0.03,0.11,0.03,-0.01,-0.06,-0.07,-0.06,0.01,0.04,0.02, 0.0,-0.05,-0.02,0.05,0.35,1.85,1.05,0.2,-0.02,0.0, 0,0,0,0,0,0,0,0,0,0],
[0.01,0.07,0.0,-0.03,-0.09,-0.06,-0.04,0.03,0.0,0.01, 0.02,-0.04,0.0,0.12,0.4,0.5,0.45,0.05,0.0,0.0, 0,0,0,0,0,0,0,0,0,0],
[0.04,0.13,0.05,-0.02,-0.05,-0.09,-0.07,-0.03,0.0,0.03, 0.01,-0.06,-0.01,0.09,0.65,1.45,1.1,0.3,0.04,0.0, 0,0,0,0,0,0,0,0,0,0],
[0.02,0.1,0.02,-0.05,-0.07,-0.1,-0.06,0.0,0.03,0.06, 0.01,-0.05,-0.02,0.1,0.6,2.1,1.3,0.35,0.02,0.0, 0,0,0,0,0,0,0,0,0,0],
[0.01,0.08,0.04,-0.03,-0.08,-0.07,-0.05,0.02,0.0,0.02, 0.0,-0.03,0.0,0.15,0.85,1.65,0.7,0.2,0.0,0.0, 0,0,0,0,0,0,0,0,0,0]
];
const cvaeQi = [
[0.0,0.01,0.0,0.0,-0.01,0.0,0.01,0.0,0.0,0.0, 0.0,0.0,0.01,0.05,0.35,0.6,0.45,0.1,0.0,0.0, 0,0,0,0,0,0,0,0,0,0],
[0.01,0.0,0.0,0.01,0.0,0.0,0.0,0.02,0.0,0.0, 0.0,0.01,0.02,0.07,0.45,0.62,0.5,0.15,0.0,0.0, 0,0,0,0,0,0,0,0,0,0],
[0.0,0.0,0.01,0.0,0.0,0.01,0.0,0.0,0.01,0.0, 0.0,0.0,0.0,0.03,0.25,0.5,0.35,0.05,0.0,0.0, 0,0,0,0,0,0,0,0,0,0],
[-0.01,0.0,0.0,0.0,0.01,0.0,0.0,0.0,0.0,0.01, 0.0,0.0,0.01,0.06,0.4,0.55,0.55,0.2,0.01,0.0, 0,0,0,0,0,0,0,0,0,0],
[0.0,0.01,0.0,0.0,0.0,0.0,0.02,0.0,0.0,0.0, 0.01,0.0,0.0,0.04,0.3,0.45,0.3,0.03,0.0,0.0, 0,0,0,0,0,0,0,0,0,0],
[0.01,0.0,0.0,-0.01,0.0,0.0,0.0,0.01,0.0,0.0, 0.0,0.0,0.02,0.08,0.42,0.58,0.4,0.12,0.0,0.0, 0,0,0,0,0,0,0,0,0,0],
[0.0,0.0,0.0,0.0,0.0,0.01,0.0,0.0,0.0,0.0, 0.0,0.01,0.0,0.05,0.28,0.52,0.48,0.08,0.0,0.0, 0,0,0,0,0,0,0,0,0,0],
[0.0,0.0,0.01,0.0,0.0,0.0,0.0,0.0,0.02,0.0, 0.0,0.0,0.01,0.06,0.38,0.48,0.38,0.18,0.0,0.0, 0,0,0,0,0,0,0,0,0,0]
];
const diffQi = [
[0.0,-0.03,0.02,0.0,0.03,-0.02,0.0,0.02,-0.01,0.0, 0.01,-0.02,0.0,0.05,0.4,0.85,0.55,0.1,0.0,0.01, 0.0,0.02,0.0,0.01,0.0,0.0,0.01,0.0,0.01,0.0],
[0.02,0.0,-0.02,0.1,0.0,0.03,-0.03,0.0,0.02,0.01, -0.02,0.0,0.01,0.1,0.6,1.0,0.5,0.15,0.01,0.0, 0.02,0.0,0.01,0.0,0.02,0.0,0.0,0.01,0.0,0.01],
[-0.03,0.02,0.0,-0.02,0.04,0.0,0.02,-0.02,0.0,0.03, 0.0,-0.01,0.0,0.03,0.25,0.5,0.35,0.05,0.0,-0.01, 0.0,0.01,0.0,0.0,0.01,0.0,0.02,0.0,0.0,0.0],
[0.01,-0.02,0.03,0.02,-0.03,-0.04,0.0,0.03,0.01,-0.02, 0.02,0.0,-0.01,0.08,0.5,0.9,0.65,0.2,0.02,0.0, 0.0,0.0,0.02,0.0,0.0,0.01,0.0,0.0,0.02,0.0],
[0.0,0.03,-0.01,-0.03,0.02,0.04,0.03,-0.01,-0.03,0.0, 0.0,0.02,0.01,0.12,0.7,0.75,0.4,0.08,-0.01,0.0, 0.01,0.0,0.0,0.01,0.0,0.0,0.0,0.01,0.0,0.0],
[-0.02,0.01,0.02,0.04,-0.01,-0.02,-0.04,0.01,0.03,0.02, 0.01,-0.01,0.0,0.06,0.35,0.7,0.6,0.12,0.0,0.0, 0.0,0.01,0.0,0.0,0.0,0.02,0.0,0.0,0.0,0.01],
[0.03,-0.01,-0.03,0.0,0.01,0.02,0.01,-0.03,0.0,-0.01, -0.03,0.01,0.02,0.15,0.55,0.6,0.3,0.06,0.01,0.0, 0.0,0.0,0.0,0.02,0.0,0.0,0.01,0.0,0.0,0.0],
[-0.01,0.02,0.01,-0.01,-0.02,0.0,-0.02,0.02,0.02,0.01, 0.0,0.0,-0.01,0.04,0.3,0.95,0.5,0.18,0.0,0.0, 0.01,0.0,0.0,0.0,0.01,0.0,0.0,0.0,0.02,0.0],
[0.02,0.0,-0.01,0.05,0.02,-0.03,0.02,0.0,-0.02,0.0, 0.02,0.01,0.0,0.09,0.45,0.65,0.45,0.1,0.0,0.0, 0.0,0.02,0.0,0.0,0.0,0.0,0.0,0.01,0.0,0.0],
[0.0,-0.04,0.0,0.01,-0.04,0.01,0.0,-0.01,0.01,-0.03, 0.0,-0.02,0.01,0.07,0.2,0.55,0.62,0.15,0.01,0.0, 0.0,0.0,0.01,0.0,0.0,0.0,0.0,0.0,0.0,0.0]
];

// ---------- rendering ----------
const W = 2499, H = 3124;
const colX = [153, 965, 1776], rowY = [79, 853, 1628, 2402], PW = 676, PH = 643;
const serif = "'Liberation Serif','Times New Roman',serif";
const mathFont = "'DejaVu Sans',sans-serif";
const svg = d3.select("#chart");
svg.append("rect").attr("width", W).attr("height", H).attr("fill", "#fff");

const rows = [
  {label: [{t:"T", m:true}, {t:" tendency"}], truth: truthT, members: [cganT, cvaeT, diffT], xDomain: [-2.52, 2.5], xTicks: xTicksT, fmt: d3.format("d")},
  {label: [{t:"q", m:true}, {t:"v", m:true, sub:true}, {t:" tendency"}], truth: truthQv, members: [cganQv, cvaeQv, diffQv], xDomain: [-3.11, 3.02], xTicks: xTicksQv, fmt: d3.format("d")},
  {label: [{t:"q", m:true}, {t:"c", m:true, sub:true}, {t:" mixing ratio"}], truth: truthQc, members: [cganQc, cvaeQc, diffQc], xDomain: [-0.2, 2.7], xTicks: xTicksQc, fmt: d3.format(".1f")},
  {label: [{t:"q", m:true}, {t:"i", m:true, sub:true}, {t:" mixing ratio"}], truth: truthQi, members: [cganQi, cvaeQi, diffQi], xDomain: [-0.2, 3.0], xTicks: xTicksQi, fmt: d3.format(".1f")}
];

// column titles
columnTitles.forEach((t, c) => {
  svg.append("text").attr("x", colX[c] + PW / 2).attr("y", 64)
    .attr("text-anchor", "middle").attr("font-family", serif).attr("font-size", 64).attr("fill", "#111").text(t);
});

rows.forEach((row, r) => {
  const y0 = rowY[r];
  // row label
  const lab = svg.append("text")
    .attr("transform", `translate(76,${y0 + PH / 2}) rotate(-90)`)
    .attr("text-anchor", "middle").attr("font-size", 64).attr("fill", "#111").attr("font-family", serif);
  let shifted = false;
  row.label.forEach(p => {
    const ts = lab.append("tspan").text(p.t);
    if (p.m) ts.attr("font-family", mathFont).attr("font-style", "oblique").attr("font-size", 70);
    if (p.sub) { ts.attr("font-size", 50).attr("dy", 14); shifted = true; }
    else if (shifted) { ts.attr("dy", -14).attr("dx", 10); shifted = false; }
  });

  row.members.forEach((mem, c) => {
    const x0 = colX[c];
    const x = d3.scaleLinear().domain(row.xDomain).range([x0, x0 + PW]);
    const y = d3.scaleLinear().domain([-0.45, 31.45]).range([y0 + PH, y0]);
    const idx = r * 3 + c;
    const g = svg.append("g");
    const clipId = "clip" + idx;
    g.append("clipPath").attr("id", clipId).append("rect")
      .attr("x", x0).attr("y", y0).attr("width", PW).attr("height", PH);
    const line = d3.line().x(d => x(d[0])).y(d => y(d[1]));
    const plot = g.append("g").attr("clip-path", `url(#${clipId})`);
    mem.forEach(m => {
      plot.append("path").attr("d", line(m.map((v, i) => [v, levels[i]])))
        .attr("fill", "none").attr("stroke", "#00ffff").attr("stroke-width", 3).attr("stroke-linejoin", "round");
    });
    plot.append("path").attr("d", line(row.truth.map((v, i) => [v, levels[i]])))
      .attr("fill", "none").attr("stroke", "#111").attr("stroke-width", 4).attr("stroke-linejoin", "round");

    // axes
    const ax = g.append("g").attr("transform", `translate(0,${y0 + PH})`)
      .call(d3.axisBottom(x).tickValues(row.xTicks).tickFormat(row.fmt).tickSize(7).tickPadding(8));
    const ay = g.append("g").attr("transform", `translate(${x0},0)`)
      .call(d3.axisLeft(y).tickValues(yTicks).tickFormat(d3.format("d")).tickSize(7).tickPadding(10));
    [ax, ay].forEach(a => {
      a.select(".domain").remove();
      a.selectAll(".tick line").attr("stroke", "#777").attr("stroke-width", 2);
      a.selectAll(".tick text").attr("font-family", serif).attr("font-size", 52).attr("fill", "#111");
    });
    // spines
    g.append("rect").attr("x", x0).attr("y", y0).attr("width", PW).attr("height", PH)
      .attr("fill", "none").attr("stroke", "#888").attr("stroke-width", 2.5);
    // panel letter
    g.append("text").attr("x", x0 + PW - 28).attr("y", y0 + 70)
      .attr("text-anchor", "end").attr("font-family", serif).attr("font-size", 62).attr("fill", "#111")
      .text(panelLetters[idx]);
  });
});
</script>
</body></html>
